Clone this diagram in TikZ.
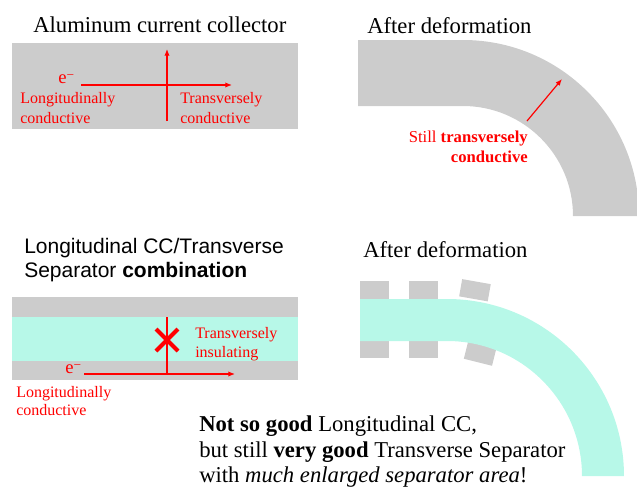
\documentclass[tikz,border=0pt]{standalone}
\usepackage{fontspec}
\setmainfont{Liberation Serif}
\setsansfont{Liberation Sans}
\usetikzlibrary{arrows.meta}
\definecolor{ccgray}{RGB}{204,204,204}
\definecolor{sepcyan}{RGB}{183,248,232}
\definecolor{rd}{RGB}{255,0,0}
\newcommand{\elecminus}{\raisebox{0.45ex}{\fontsize{10}{12}\selectfont\char"2212}}
\begin{document}
\begin{tikzpicture}[x=0.75pt,y=-0.75pt,
  ttl/.style={font=\fontsize{17}{19}\selectfont, inner sep=0pt, anchor=base west},
  sttl/.style={font=\sffamily\fontsize{15.75}{19}\selectfont, inner sep=0pt, anchor=base west},
  btxt/.style={font=\fontsize{17}{20}\selectfont, inner sep=0pt, anchor=base west},
  lbl/.style={text=rd, font=\fontsize{12}{15}\selectfont, inner sep=0pt, anchor=base west},
  rlbl/.style={text=rd, font=\fontsize{12.5}{15}\selectfont, inner sep=0pt, anchor=base east},
  elec/.style={text=rd, font=\fontsize{14}{16}\selectfont, inner sep=0pt, anchor=base west},
  arr/.style={draw=rd, line width=0.9pt, -{Latex[length=5pt,width=4pt]}},
  ]
\useasboundingbox (0,0) rectangle (637,490);

% ---------- top left ----------
\node[ttl] (t1) at (33,32) {Aluminum current collector};
\fill[ccgray] (12,43) rectangle (298,129);
\coordinate (h1s) at (81,85);
\coordinate (h1e) at (232,85);
\coordinate (v1s) at (167,121);
\coordinate (v1e) at (167,49);
\draw[arr] (h1s) -- (h1e);
\draw[arr] (v1s) -- (v1e);
\node[elec] (e1) at (58,83) {e\elecminus};
\node[lbl] (l1a) at (20,103) {Longitudinally};
\node[lbl] (l1b) at (20,123) {conductive};
\node[lbl] (r1a) at (180,103) {Transversely};
\node[lbl] (r1b) at (180,123) {conductive};

% ---------- top right ----------
\node[ttl] (t2) at (367,33) {After deformation};
\fill[ccgray] (358,40) -- (463,40) arc(-90:0:176) -- (573,216) arc(0:-90:110) -- (358,106) -- cycle;
\coordinate (a2s) at (527,121);
\coordinate (a2e) at (562,79);
\draw[arr] (a2s) -- (a2e);
\node[rlbl] (s2a) at (528,142) {Still \textbf{transversely}};
\node[rlbl] (s2b) at (528,162) {\textbf{conductive}};

% ---------- bottom left ----------
\node[sttl] (t3a) at (24,253) {Longitudinal CC/Transverse};
\node[sttl] (t3b) at (24,277) {Separator \textbf{combination}};
\fill[ccgray] (12,297) rectangle (298,380);
\fill[sepcyan] (12,317) rectangle (298,361);
\coordinate (v3s) at (167,317);
\coordinate (v3e) at (167,375);
\draw[rd, line width=0.8pt] (v3s) -- (v3e);
\coordinate (x3a) at (156,329);
\coordinate (x3b) at (178,351);
\coordinate (x3c) at (156,351);
\coordinate (x3d) at (178,329);
\draw[rd, line width=3pt] (x3a) -- (x3b) (x3c) -- (x3d);
\coordinate (h3s) at (84,374);
\coordinate (h3e) at (235,374);
\draw[arr] (h3s) -- (h3e);
\node[elec] (e3) at (65,373) {e\elecminus};
\node[lbl] (r3a) at (195,338) {Transversely};
\node[lbl] (r3b) at (195,357) {insulating};
\node[lbl] (l3a) at (16,397) {Longitudinally};
\node[lbl] (l3b) at (16,415) {conductive};

% ---------- bottom right ----------
\node[ttl] (t4) at (363,257) {After deformation};
\fill[ccgray] (360,281) rectangle (389,358);
\fill[ccgray] (409,281) rectangle (438,358);
\fill[ccgray, shift={(475,290)}, rotate=-10] (-14.5,-8.5) rectangle (14.5,9);
\fill[ccgray, shift={(480,354)}, rotate=-14] (-14.5,-9) rectangle (14.5,8.5);
\fill[sepcyan] (360,299) -- (447,299) arc(-90:0:177) -- (582,476) arc(0:-90:135) -- (360,341) -- cycle;

% ---------- bottom text ----------
\node[btxt] (b1) at (199,431) {\textbf{Not so good} Longitudinal CC,};
\node[btxt] (b2) at (199,457) {but still \textbf{very good} Transverse Separator};
\node[btxt] (b3) at (199,482) {with \textit{much enlarged separator area}!};
\end{tikzpicture}
\end{document}
